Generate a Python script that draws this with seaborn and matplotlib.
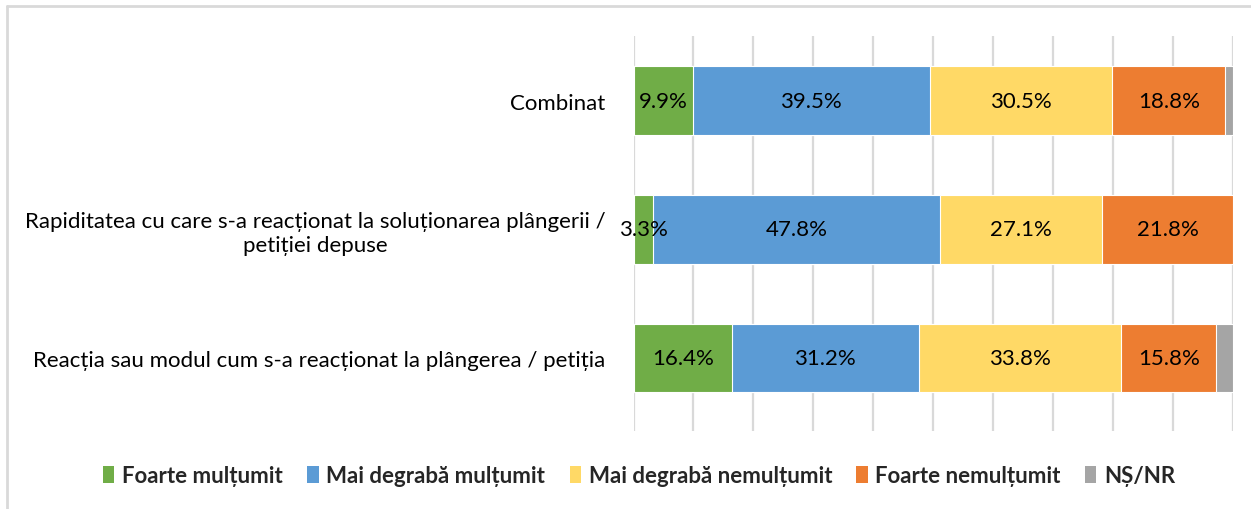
import matplotlib
matplotlib.use("Agg")
import matplotlib.pyplot as plt
from matplotlib.patches import Patch
from matplotlib.lines import Line2D
import numpy as np
import pandas as pd
import seaborn as sns

# Survey items (top to bottom)
categories = [
    "Combinat",
    "Rapiditatea cu care s-a reacționat la soluționarea plângerii /\npetiției depuse",
    "Reacția sau modul cum s-a reacționat la plângerea / petiția",
]
series_names = [
    "Foarte mulțumit",
    "Mai degrabă mulțumit",
    "Mai degrabă nemulțumit",
    "Foarte nemulțumit",
    "NȘ/NR",
]
foarte_multumit = [9.9, 3.3, 16.4]
mai_degraba_multumit = [39.5, 47.8, 31.2]
mai_degraba_nemultumit = [30.5, 27.1, 33.8]
foarte_nemultumit = [18.8, 21.8, 15.8]
ns_nr = [1.3, 0.0, 2.8]
colors = ["#70AD47", "#5B9BD5", "#FFD966", "#ED7D31", "#A5A5A5"]
labelled = [True, True, True, True, False]

values = [foarte_multumit, mai_degraba_multumit, mai_degraba_nemultumit,
          foarte_nemultumit, ns_nr]

sns.set_theme(style="white")
plt.rcParams["font.family"] = ["Lato", "DejaVu Sans"]

fig = plt.figure(figsize=(12.51, 5.10), dpi=100)
ax = fig.add_axes([0.5064, 0.153, 0.4792, 0.774])

# cumulative ends of each segment
cum = np.cumsum(np.array(values), axis=0)
starts = cum - np.array(values)

# stacked bars: draw longest cumulative first so each layer shows its segment
for i in range(len(series_names) - 1, -1, -1):
    df = pd.DataFrame({"cat": categories, "end": cum[i]})
    sns.barplot(data=df, x="end", y="cat", orient="h", color=colors[i],
                width=0.53, edgecolor="white", linewidth=0.8,
                saturation=1, ax=ax, zorder=3)

for i in range(len(series_names)):
    if not labelled[i]:
        continue
    for j in range(len(categories)):
        v = values[i][j]
        ax.text(starts[i][j] + v / 2, j, f"{v:.1f}%", ha="center", va="center",
                fontsize=16, color="#000000", zorder=5)

ax.set_xlim(0, 100)
ax.set_ylim(2.565, -0.5)
ax.set_xticks(np.arange(0, 101, 10))
ax.set_xticklabels([])
ax.xaxis.grid(True, color="#D9D9D9", linewidth=1.6, zorder=0)
ax.set_axisbelow(True)
ax.set_xlabel("")
ax.set_ylabel("")
for s in ax.spines.values():
    s.set_visible(False)
ax.tick_params(axis="y", length=0, pad=20, labelsize=16, labelcolor="#000000")
ax.tick_params(axis="x", length=0)
ax.set_yticklabels(categories, ha="right", multialignment="center")

handles = [Patch(facecolor=c, edgecolor="none") for c in colors]
fig.legend(handles, series_names, loc="center", bbox_to_anchor=(0.511, 0.066),
           ncol=5, frameon=False, handlelength=0.5, handleheight=0.8,
           handletextpad=0.35, columnspacing=1.1,
           prop={"weight": "bold", "size": 16})

# light frame along the top and left edges
frame_kw = dict(color="#D9D9D9", linewidth=2, transform=fig.transFigure)
fig.add_artist(Line2D([7 / 1251, 7 / 1251], [0, 1 - 7 / 510], **frame_kw))
fig.add_artist(Line2D([7 / 1251, 1], [1 - 7 / 510, 1 - 7 / 510], **frame_kw))

fig.savefig("out.png", dpi=100)
